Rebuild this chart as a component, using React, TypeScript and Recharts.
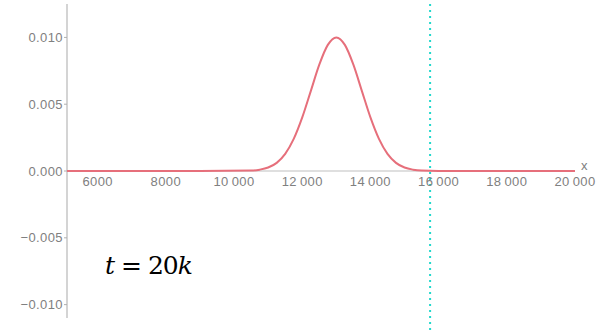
import {
  LineChart,
  Line,
  XAxis,
  YAxis,
  ReferenceLine,
  ReferenceDot,
} from "recharts";

// profile (x position vs density)
const xValues = [
  5100, 9000, 10500, 10750, 11000, 11250, 11500, 11750, 12000, 12250, 12500,
  12750, 13000, 13250, 13500, 13750, 14000, 14250, 14500, 14750, 15000, 15250,
  15500, 16000, 20000,
];
const densities = [
  0, 0, 0.00003, 0.0001, 0.00026, 0.00061, 0.00128, 0.0024, 0.00401, 0.00598,
  0.00796, 0.00944, 0.01, 0.00944, 0.00796, 0.00598, 0.00401, 0.0024, 0.00128,
  0.00061, 0.00026, 0.0001, 0.00003, 0, 0,
];

const xTicks = [6000, 8000, 10000, 12000, 14000, 16000, 18000, 20000];
const yTicks = [-0.01, -0.005, 0, 0.005, 0.01];
const markerX = 15750;
const xDomain = [5100, 20000];
const yDomain = [-0.0119, 0.0128];
const yAxisExtent = [-0.011, 0.0125];

const rows = xValues.map((x, i) => ({ x, y: densities[i] }));

const tickFont = {
  fill: "#808080",
  fontSize: 13,
  fontFamily: "Liberation Sans",
  letterSpacing: 0.4,
};
const axisGray = "#d4d4d4";

function fmtX(v: number) {
  return v >= 10000 ? `${String(v).slice(0, 2)}\u2009${String(v).slice(2)}` : String(v);
}

function fmtY(v: number) {
  const s = Math.abs(v).toFixed(3);
  return v < 0 ? `\u2212${s}` : s;
}

export default function App() {
  return (
    <div style={{ position: "absolute", left: 0, top: 0, width: 600, height: 330, background: "#fff" }}>
      <LineChart
        width={600}
        height={330}
        data={rows}
        margin={{ top: 0, right: 25, bottom: 0, left: 0 }}
      >
        <XAxis dataKey="x" type="number" domain={xDomain} hide allowDataOverflow />
        <YAxis
          type="number"
          domain={yDomain}
          ticks={yTicks}
          width={67}
          axisLine={false}
          tickLine={{ stroke: "#b0b0b0" }}
          tickSize={3}
          tickMargin={1}
          tick={tickFont}
          tickFormatter={fmtY}
          allowDataOverflow
        />
        <ReferenceLine
          segment={[
            { x: xDomain[0], y: yAxisExtent[0] },
            { x: xDomain[0], y: yAxisExtent[1] },
          ]}
          stroke={axisGray}
          strokeWidth={2}
        />
        <ReferenceLine y={0} stroke={axisGray} strokeWidth={1.5} />
        {xTicks.map((t) => (
          <ReferenceDot
            key={t}
            x={t}
            y={0}
            r={0}
            stroke="none"
            label={{ value: fmtX(t), position: "bottom", offset: 6, ...tickFont }}
          />
        ))}
        <ReferenceDot
          x={xDomain[1]}
          y={0}
          r={0}
          stroke="none"
          label={{ value: "x", position: "right", offset: 6, dy: -6, ...tickFont }}
        />
        <ReferenceLine
          x={markerX}
          stroke="#22d8cc"
          strokeWidth={2}
          strokeDasharray="2 4"
        />
        <Line
          type="monotone"
          dataKey="y"
          stroke="#e66f7b"
          strokeWidth={2}
          dot={false}
          isAnimationActive={false}
        />
      </LineChart>
      <div
        style={{
          position: "absolute",
          left: 105,
          top: 250,
          fontFamily: "'DejaVu Serif', serif",
          fontSize: 25,
          letterSpacing: -1,
          lineHeight: "32px",
          color: "#000",
          whiteSpace: "pre",
          pointerEvents: "none",
        }}
      >
        <i>t</i> = 20<i>k</i>
      </div>
    </div>
  );
}
